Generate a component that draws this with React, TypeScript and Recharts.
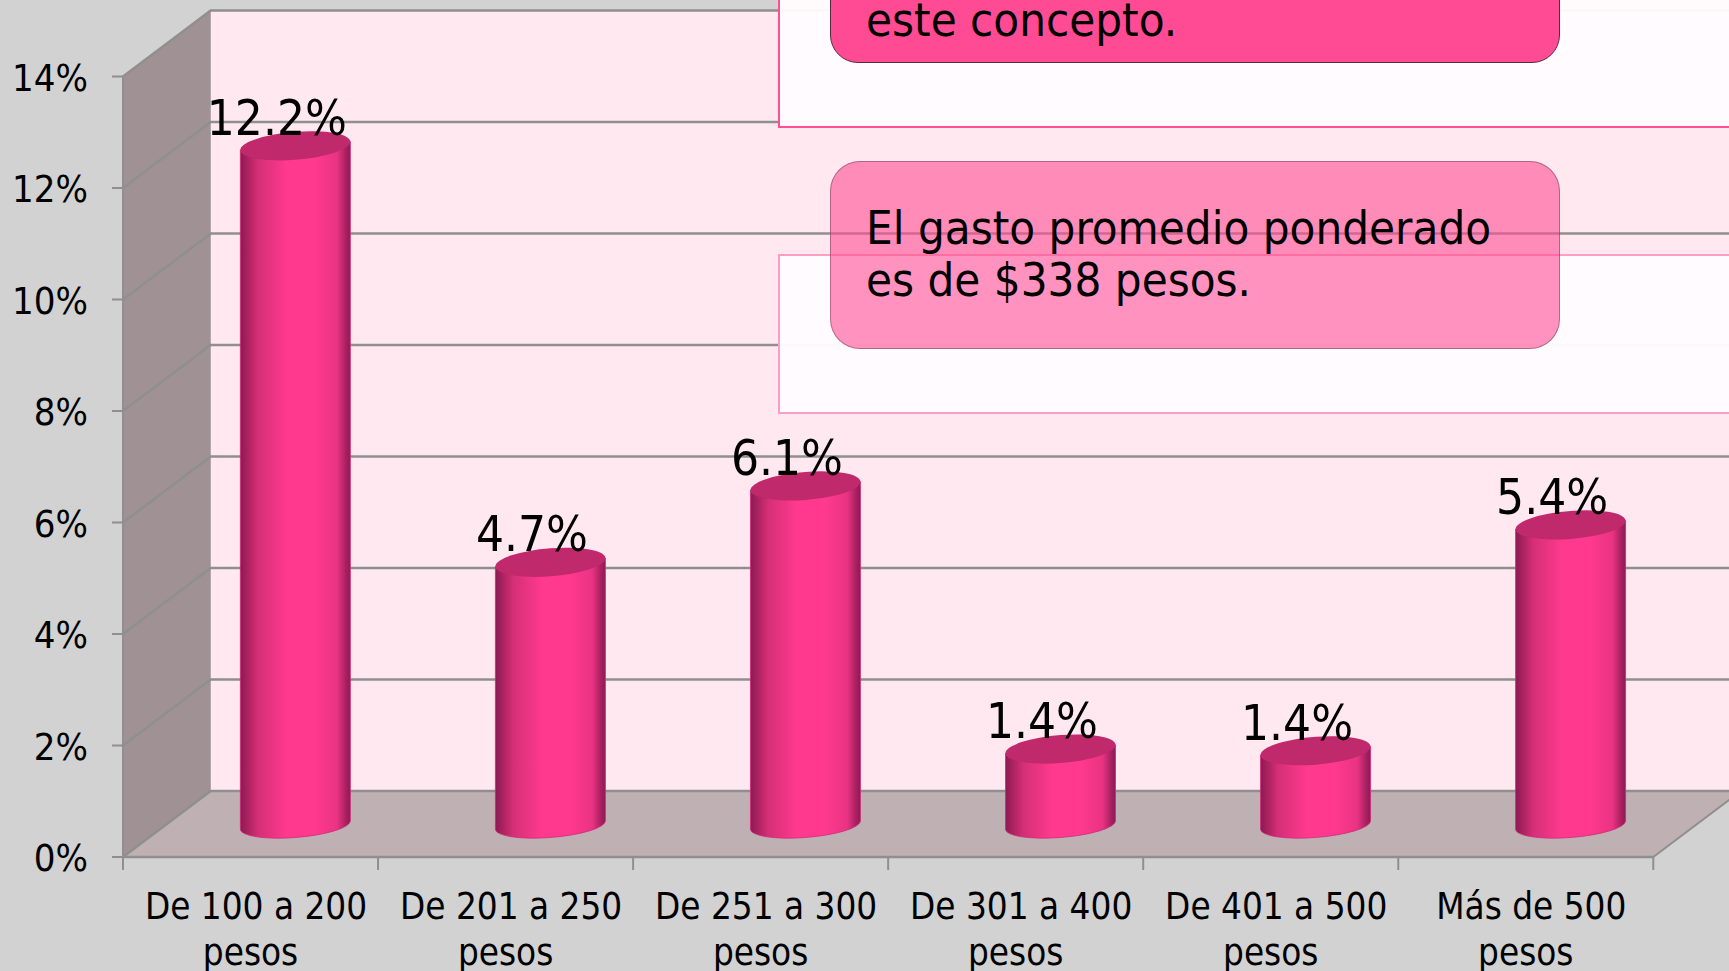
import React from 'react';
import { BarChart, Bar, XAxis, YAxis, ReferenceArea, LabelList } from 'recharts';

const categories = ['De 100 a 200', 'De 201 a 250', 'De 251 a 300', 'De 301 a 400', 'De 401 a 500', 'Más de 500'];
const values = [12.2, 4.73, 6.1, 1.38, 1.35, 5.4];
const yTicks = [0, 2, 4, 6, 8, 10, 12, 14];

const chartData = categories.map((name, i) => ({ name, value: values[i] }));

const FONT = '"DejaVu Sans Condensed", "DejaVu Sans", sans-serif';
const GREY = '#8f8f8f';

// depth of the fake 3d box
const DX = 87.7;
const DY = -66;
const BAND = (1653.3 - 123) / categories.length;

// side wall, floor and back wall
const Walls = ({ x, y, width, height }: any) => {
    const bottom = y + height;
    return (
        <g>
            <rect x={x + DX} y={y + DY} width={width} height={height} fill="#ffe8ef" />
            <polygon points={`${x},${y} ${x + DX},${y + DY} ${x + DX},${bottom + DY} ${x},${bottom}`} fill="#a09294" />
            <polygon points={`${x},${bottom} ${x + DX},${bottom + DY} ${x + width + DX},${bottom + DY} ${x + width},${bottom}`} fill="#bfb0b3" />
            <line x1={x + width} y1={bottom} x2={x + width + DX} y2={bottom + DY} stroke={GREY} strokeWidth={2} />
        </g>
    );
};

// zero height area: sits under the bars, unlike a ReferenceLine
const GridLine = ({ x, y, width }: any) => (
    <polyline points={`${x},${y} ${x + DX},${y + DY} ${x + width + DX},${y + DY}`} fill="none" stroke={GREY} strokeWidth={2.4} />
);

// cylinder standing in the middle of the box depth
const Cylinder = ({ x, y, width, height }: any) => {
    const cx = x + width / 2 + DX / 2 + 0.5;
    const top = y + DY / 2 + 2;
    const bot = y + height + DY / 2 + 1;
    const r = width / 2;
    return (
        <g transform={`matrix(1 -0.0755 0 1 ${cx} 0)`}>
            <path
                d={`M${-r},${top} L${-r},${bot} A${r},12.5 0 0 0 ${r},${bot} L${r},${top} Z`}
                fill="url(#cyl)"
                stroke="#d42a78"
                strokeWidth={0.8}
            />
            <ellipse cx={0} cy={top} rx={r} ry={14} fill="#c0296b" />
        </g>
    );
};

const ValueLabel = ({ x, y, width, value }: any) => (
    <text x={x + width / 2 + DX / 2 - 18} y={y + DY / 2 - 9} textAnchor="middle" fontSize={49} fontFamily={FONT} fill="#000">
        {value.toFixed(1)}%
    </text>
);

const YTick = ({ x, y, payload }: any) => (
    <text x={x} y={y + 14} textAnchor="end" fontSize={38} fontFamily={FONT} fill="#000">
        {payload.value}%
    </text>
);

const XTick = ({ x, y, payload, index }: any) => (
    <g>
        <line x1={x - BAND / 2} y1={857} x2={x - BAND / 2} y2={870} stroke={GREY} strokeWidth={2} />
        {index === categories.length - 1 && <line x1={x + BAND / 2} y1={857} x2={x + BAND / 2} y2={870} stroke={GREY} strokeWidth={2} />}
        <text x={x + 5.5} y={919} textAnchor="middle" fontSize={36.5} fontFamily={FONT} fill="#000">{payload.value}</text>
        <text x={x} y={965} textAnchor="middle" fontSize={36.5} fontFamily={FONT} fill="#000">pesos</text>
    </g>
);

const App = () => {
    return (
        <div style={{ position: 'absolute', left: 0, top: 0, width: 1729, height: 971, overflow: 'hidden', background: '#d2d2d2' }}>
            <BarChart width={1729} height={971} data={chartData} margin={{ top: 76.5, right: 75.7, bottom: 0, left: 0 }}>
                <defs>
                    <linearGradient id="cyl" x1="0" y1="0" x2="1" y2="0">
                        <stop offset="0%" stopColor="#8a1b55" />
                        <stop offset="6%" stopColor="#a8215f" />
                        <stop offset="16%" stopColor="#d42f77" />
                        <stop offset="42%" stopColor="#ff398e" />
                        <stop offset="68%" stopColor="#ff398e" />
                        <stop offset="88%" stopColor="#e93383" />
                        <stop offset="96%" stopColor="#a8215f" />
                        <stop offset="100%" stopColor="#8a1b55" />
                    </linearGradient>
                </defs>
                <XAxis dataKey="name" height={114} interval={0} tickLine={false} axisLine={{ stroke: GREY, strokeWidth: 2.4 }} tick={XTick} />
                <YAxis
                    width={123}
                    domain={[0, 14]}
                    ticks={yTicks}
                    tickSize={11}
                    tickMargin={24}
                    tickLine={{ stroke: GREY, strokeWidth: 2 }}
                    axisLine={{ stroke: GREY, strokeWidth: 2 }}
                    tick={YTick}
                />
                <ReferenceArea y1={0} y2={14} ifOverflow="visible" shape={Walls} />
                {yTicks.map((t) => (
                    <ReferenceArea key={t} y1={t} y2={t} ifOverflow="visible" shape={GridLine} />
                ))}
                <Bar dataKey="value" barSize={110} shape={Cylinder} isAnimationActive={false}>
                    <LabelList dataKey="value" content={ValueLabel} />
                </Bar>
            </BarChart>

            {/* text boxes laid over the chart */}
            <div style={{ position: 'absolute', left: 778, top: -200, width: 1100, height: 328, boxSizing: 'border-box', border: '2px solid #ff4f93', background: 'rgba(255,252,254,0.96)' }} />
            <div style={{ position: 'absolute', left: 778, top: 254, width: 1100, height: 160, boxSizing: 'border-box', border: '2px solid #ff9ec4', background: 'rgba(255,252,254,0.96)' }} />
            <div style={{ position: 'absolute', left: 830, top: -100, width: 730, height: 163, boxSizing: 'border-box', borderRadius: 28, border: '1px solid #5c2a40', background: '#ff4b93' }} />
            <div style={{ position: 'absolute', left: 830, top: 161, width: 730, height: 188, boxSizing: 'border-box', borderRadius: 30, border: '1px solid rgba(90,50,70,0.45)', background: 'rgba(255,77,146,0.6)' }} />
            <div style={{ position: 'absolute', left: 866, top: -6, fontFamily: FONT, fontSize: 47, lineHeight: '52px', color: '#000', whiteSpace: 'nowrap' }}>
                este concepto.
            </div>
            <div style={{ position: 'absolute', left: 866, top: 202, fontFamily: FONT, fontSize: 47, lineHeight: '52px', color: '#000', whiteSpace: 'nowrap' }}>
                El gasto promedio ponderado
                <br />
                es de $338 pesos.
            </div>
        </div>
    );
};

export default App;
